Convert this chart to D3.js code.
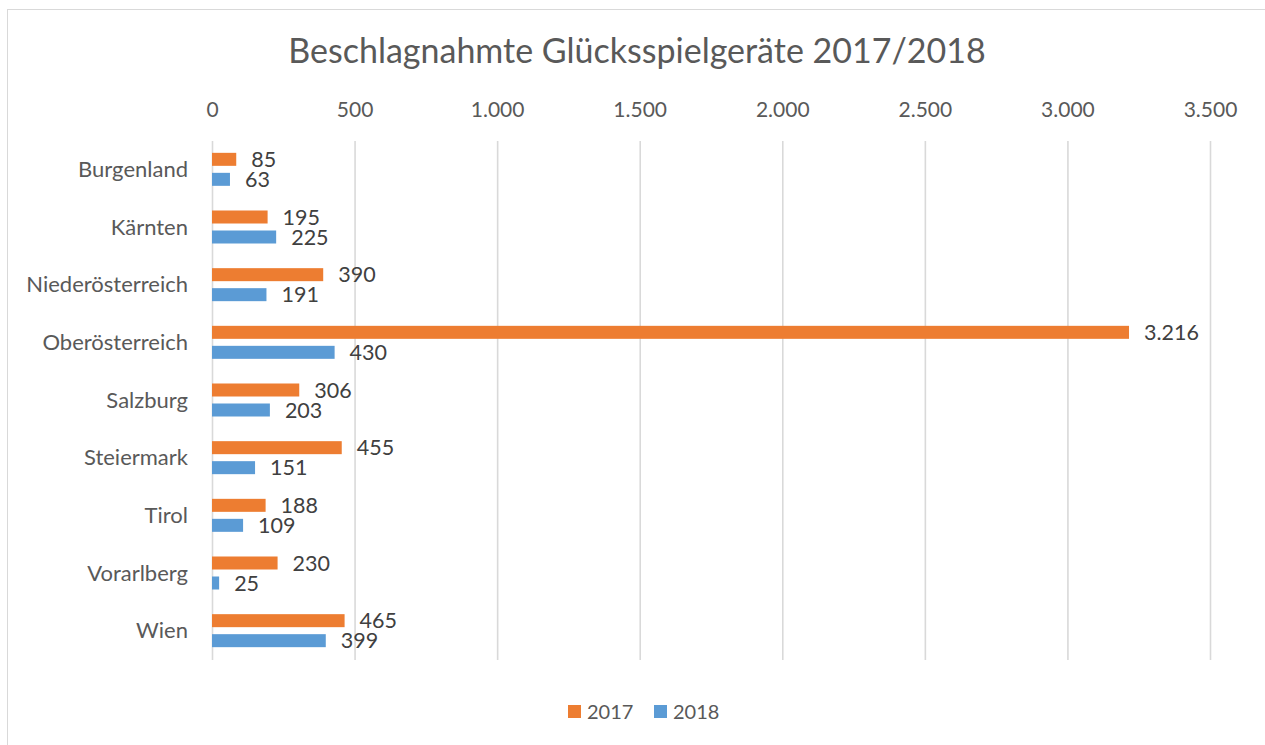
<!DOCTYPE html>
<html>
<head>
<meta charset="utf-8">
<script src="https://cdn.jsdelivr.net/npm/d3@7"></script>
<style>
  body { margin: 0; background: #fff; }
  text { font-family: Lato, "Open Sans", sans-serif; }
</style>
</head>
<body>
<script>
// data
const regions = ["Burgenland", "Kärnten", "Niederösterreich", "Oberösterreich", "Salzburg",
                 "Steiermark", "Tirol", "Vorarlberg", "Wien"];
const years = ["2017", "2018"];
const values2017 = [85, 195, 390, 3216, 306, 455, 188, 230, 465];
const values2018 = [63, 225, 191, 430, 203, 151, 109, 25, 399];
const xTicks = [0, 500, 1000, 1500, 2000, 2500, 3000, 3500];

const width = 1265;
const height = 745;

const colors = {"2017": "#ED7D31", "2018": "#5B9BD5"};

const de = d3.formatLocale({decimal: ",", thousands: ".", grouping: [3], currency: ["", " €"]});
const fmt = de.format(",d");

const svg = d3.select("body")
    .append("svg")
        .attr("width", width)
        .attr("height", height);

// chart border
svg.append("rect")
    .attr("x", 7.5)
    .attr("y", 9.5)
    .attr("width", width + 20)
    .attr("height", height + 20)
    .attr("fill", "none")
    .attr("stroke", "#d9d9d9")
    .attr("stroke-width", 1);

svg.append("text")
    .attr("x", 637)
    .attr("y", 63)
    .attr("text-anchor", "middle")
    .attr("font-size", "34px")
    .style("fill", "#595959")
    .text("Beschlagnahmte Glücksspielgeräte 2017/2018");

const plotTop = 141, plotBottom = 660;

const x = d3.scaleLinear()
    .domain([0, 3500])
    .range([212, 1210]);

const y = d3.scaleBand()
    .domain(regions)
    .range([plotTop, plotBottom]);

const inner = d3.scaleBand()
    .domain(years)
    .range([-17, 16])
    .paddingInner(0.35);

// gridlines
svg.append("g")
    .attr("class", "grid")
    .attr("transform", "translate(0," + plotTop + ")")
    .call(d3.axisTop(x).tickValues(xTicks).tickSize(-(plotBottom - plotTop)).tickFormat(""))
    .call(g => g.select(".domain").remove())
    .call(g => g.selectAll("line").attr("stroke", "#d9d9d9").attr("stroke-width", 1.6));

// top axis labels
svg.append("g")
    .attr("class", "top axis")
    .attr("transform", "translate(0," + plotTop + ")")
    .call(d3.axisTop(x).tickValues(xTicks).tickSize(0).tickPadding(24).tickFormat(fmt))
    .call(g => g.select(".domain").remove())
    .call(g => g.selectAll("text")
        .attr("font-family", "Lato, sans-serif")
        .attr("font-size", "21px")
        .style("fill", "#595959"));

// category labels
svg.append("g")
    .attr("class", "left axis")
    .attr("transform", "translate(188,0)")
    .call(d3.axisLeft(y).tickSize(0).tickPadding(0))
    .call(g => g.select(".domain").remove())
    .call(g => g.selectAll("text")
        .attr("font-family", "Lato, sans-serif")
        .attr("font-size", "22px")
        .style("fill", "#595959"));

const rows = [];
regions.forEach((r, i) => {
    rows.push({region: r, year: "2017", value: values2017[i]});
    rows.push({region: r, year: "2018", value: values2018[i]});
});

const barY = d => y(d.region) + y.bandwidth() / 2 + inner(d.year);

svg.selectAll("rect.bar")
    .data(rows)
    .enter()
    .append("rect")
        .attr("class", "bar")
        .attr("x", x(0))
        .attr("y", d => barY(d))
        .attr("width", d => x(d.value) - x(0))
        .attr("height", inner.bandwidth())
        .attr("fill", d => colors[d.year]);

svg.selectAll("text.label")
    .data(rows)
    .enter()
    .append("text")
        .attr("class", "label")
        .attr("x", d => x(d.value) + 15)
        .attr("y", d => barY(d) + inner.bandwidth() / 2)
        .attr("dy", "0.36em")
        .attr("font-size", "21.5px")
        .style("fill", "#404040")
        .text(d => fmt(d.value));

// legend
const legendX = {"2017": 568, "2018": 654};
const legend = svg.selectAll("g.legend")
    .data(years)
    .enter()
    .append("g")
        .attr("class", "legend")
        .attr("transform", d => "translate(" + legendX[d] + ",705)");

legend.append("rect")
    .attr("width", 13)
    .attr("height", 13)
    .attr("fill", d => colors[d]);

legend.append("text")
    .attr("x", 19)
    .attr("y", 7)
    .attr("dy", "0.36em")
    .attr("font-size", "20px")
    .style("fill", "#595959")
    .text(d => d);
</script>
</body>
</html>
